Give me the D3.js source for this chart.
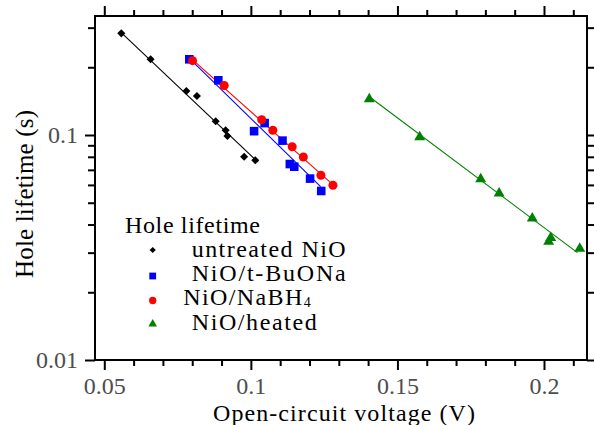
<!DOCTYPE html>
<html>
<head>
<meta charset="utf-8">
<script src="https://cdn.jsdelivr.net/npm/d3@7"></script>
<style>
  html, body { margin: 0; padding: 0; background: #fff; }
  svg { display: block; }
  text { font-family: "Liberation Serif", "Times New Roman", serif; }
</style>
</head>
<body>
<svg id="chart" width="594" height="425"></svg>
<script>
// ---- Data ----
const untreatedX = [0.0558, 0.0658, 0.0780, 0.0816, 0.0880, 0.0914, 0.0920, 0.0977, 0.1015];
const untreatedY = [0.283, 0.217, 0.157, 0.149, 0.115, 0.105, 0.099, 0.080, 0.0772];

const tbuonaX = [0.0790, 0.0889, 0.1047, 0.1011, 0.1108, 0.1133, 0.1148, 0.1202, 0.1240];
const tbuonaY = [0.217, 0.175, 0.113, 0.104, 0.0944, 0.0743, 0.0723, 0.0640, 0.0564];

const nabh4X = [0.0801, 0.0909, 0.1037, 0.1075, 0.1141, 0.1179, 0.1239, 0.1280];
const nabh4Y = [0.214, 0.166, 0.117, 0.105, 0.0887, 0.0798, 0.0662, 0.0598];

const heatedX = [0.1404, 0.1576, 0.1784, 0.1847, 0.1960, 0.2023, 0.2016, 0.2122];
const heatedY = [0.146, 0.099, 0.0644, 0.0556, 0.0431, 0.0353, 0.0339, 0.0316];

// fitted lines (end points)
const fitUntreatedX = [0.0557, 0.1025];
const fitUntreatedY = [0.286, 0.0757];
const fitTbuonaX = [0.0792, 0.1238];
const fitTbuonaY = [0.218, 0.0589];
const fitNabh4X = [0.0793, 0.1272];
const fitNabh4Y = [0.2207, 0.0614];
const fitHeatedX = [0.1404, 0.2114];
const fitHeatedY = [0.148, 0.0300];

const xMajorTicks = [0.05, 0.1, 0.15, 0.2];
const xMinorTicks = [0.06, 0.07, 0.08, 0.09, 0.11, 0.12, 0.13, 0.14, 0.16, 0.17, 0.18, 0.19, 0.21];
const xTickLabels = ["0.05", "0.1", "0.15", "0.2"];
const yMajorTicks = [0.01, 0.1];
const yMinorTicks = [0.02, 0.03, 0.04, 0.05, 0.06, 0.07, 0.08, 0.09, 0.2, 0.3];
const yTickLabels = ["0.01", "0.1"];

const xDomain = [0.04683, 0.21467];
const yDomain = [0.01, 0.338];

const legendTitle = "Hole lifetime";
const seriesNames = ["untreated NiO", "NiO/t-BuONa", "NiO/NaBH4", "NiO/heated"];
const seriesColors = ["#000000", "#0000ff", "#ff0000", "#008000"];
const xTitle = "Open-circuit voltage (V)";
const yTitle = "Hole lifetime (s)";

// ---- Layout ----
const W = 594, H = 425;
const margin = { left: 95, top: 16, right: 7, bottom: 65 };
const pw = W - margin.left - margin.right;
const ph = H - margin.top - margin.bottom;

const svg = d3.select("#chart");
const x = d3.scaleLinear().domain(xDomain).range([margin.left, margin.left + pw]);
const y = d3.scaleLog().domain(yDomain).range([margin.top + ph, margin.top]);

const tickColor = "#000";
const labelColor = "#4d4d4d";

function styleAxis(g) {
  g.select(".domain").remove();
  g.selectAll(".tick line").attr("stroke", tickColor).attr("stroke-width", 2);
  g.selectAll(".tick text").attr("fill", labelColor).style("font-size", "24px");
}

// bottom
svg.append("g").attr("transform", `translate(0,${margin.top + ph})`)
  .call(d3.axisBottom(x).tickValues(xMajorTicks).tickSize(10).tickPadding(7)
    .tickFormat((d, i) => xTickLabels[i])).call(styleAxis);
svg.append("g").attr("transform", `translate(0,${margin.top + ph})`)
  .call(d3.axisBottom(x).tickValues(xMinorTicks).tickSize(6).tickFormat("")).call(styleAxis);
// top
svg.append("g").attr("transform", `translate(0,${margin.top})`)
  .call(d3.axisTop(x).tickValues(xMajorTicks).tickSize(10).tickFormat("")).call(styleAxis);
svg.append("g").attr("transform", `translate(0,${margin.top})`)
  .call(d3.axisTop(x).tickValues(xMinorTicks).tickSize(6).tickFormat("")).call(styleAxis);
// left
svg.append("g").attr("transform", `translate(${margin.left},0)`)
  .call(d3.axisLeft(y).tickValues(yMajorTicks).tickSize(10).tickPadding(7)
    .tickFormat((d, i) => yTickLabels[i])).call(styleAxis);
svg.append("g").attr("transform", `translate(${margin.left},0)`)
  .call(d3.axisLeft(y).tickValues(yMinorTicks).tickSize(7).tickFormat("")).call(styleAxis);
// right
svg.append("g").attr("transform", `translate(${margin.left + pw},0)`)
  .call(d3.axisRight(y).tickValues(yMajorTicks).tickSize(10).tickFormat("")).call(styleAxis);
svg.append("g").attr("transform", `translate(${margin.left + pw},0)`)
  .call(d3.axisRight(y).tickValues(yMinorTicks).tickSize(7).tickFormat("")).call(styleAxis);

// frame
svg.append("rect").attr("x", margin.left).attr("y", margin.top)
  .attr("width", pw).attr("height", ph)
  .attr("fill", "none").attr("stroke", "#000").attr("stroke-width", 2);

// clip
svg.append("clipPath").attr("id", "clip").append("rect")
  .attr("x", margin.left).attr("y", margin.top).attr("width", pw).attr("height", ph);
const plot = svg.append("g").attr("clip-path", "url(#clip)");

const line = d3.line().x(d => x(d[0])).y(d => y(d[1]));
const fits = [
  [fitUntreatedX, fitUntreatedY],
  [fitTbuonaX, fitTbuonaY],
  [fitNabh4X, fitNabh4Y],
  [fitHeatedX, fitHeatedY]
];
fits.forEach((f, i) => {
  plot.append("path").datum(d3.zip(f[0], f[1]))
    .attr("d", line).attr("fill", "none")
    .attr("stroke", seriesColors[i]).attr("stroke-width", 1.1);
});

const symTypes = [d3.symbolDiamond, d3.symbolSquare, d3.symbolCircle, d3.symbolTriangle];
const plotSizes = [40, 74, 64, 52];
const legendSizes = [24, 46, 42, 32];
const series = [
  [untreatedX, untreatedY],
  [tbuonaX, tbuonaY],
  [nabh4X, nabh4Y],
  [heatedX, heatedY]
];
function symPath(i, size) {
  if (i === 0) {
    const r = Math.sqrt(size) / 2 * Math.SQRT2 * 0.9;
    return `M0,${-r}L${r},0L0,${r}L${-r},0Z`;
  }
  return d3.symbol().type(symTypes[i]).size(size)();
}
series.forEach((s, i) => {
  plot.append("g").selectAll("path").data(d3.zip(s[0], s[1])).join("path")
    .attr("transform", d => `translate(${x(d[0])},${y(d[1]) + (i === 3 ? 1 : 0)})`)
    .attr("d", symPath(i, plotSizes[i]))
    .attr("fill", seriesColors[i]);
});

// legend
const legFont = "24px";
const lg = svg.append("g");
lg.append("text").attr("x", 125).attr("y", 233).style("font-size", legFont)
  .attr("fill", "#000").attr("textLength", 135).attr("lengthAdjust", "spacing")
  .text(legendTitle);
const legY = [250, 276, 300.5, 324];
const legTextX = [191.7, 191.7, 183.3, 191.7];
const legBase = [257, 281, 305, 330];
const legLen = [154, 154, 119, 125];
seriesNames.forEach((n, i) => {
  lg.append("path").attr("transform", `translate(152.7,${legY[i]})`)
    .attr("d", symPath(i, legendSizes[i])).attr("fill", seriesColors[i]);
  const t = lg.append("text").attr("x", legTextX[i]).attr("y", legBase[i])
    .style("font-size", legFont).attr("fill", "#000");
  if (n === "NiO/NaBH4") {
    t.append("tspan").attr("textLength", legLen[i]).attr("lengthAdjust", "spacing").text("NiO/NaBH");
    t.append("tspan").attr("dy", 1.5).style("font-size", "14px").text("4");
  } else {
    t.attr("textLength", legLen[i]).attr("lengthAdjust", "spacing").text(n);
  }
});

// axis titles
svg.append("text").attr("x", 344).attr("y", 421).attr("text-anchor", "middle")
  .style("font-size", "24px").attr("fill", "#000")
  .attr("textLength", 262).attr("lengthAdjust", "spacing").text(xTitle);
svg.append("text").attr("transform", "translate(33,194) rotate(-90)")
  .attr("text-anchor", "middle").style("font-size", "25px").attr("fill", "#000")
  .attr("textLength", 168).attr("lengthAdjust", "spacing")
  .text(yTitle);
</script>
</body>
</html>
